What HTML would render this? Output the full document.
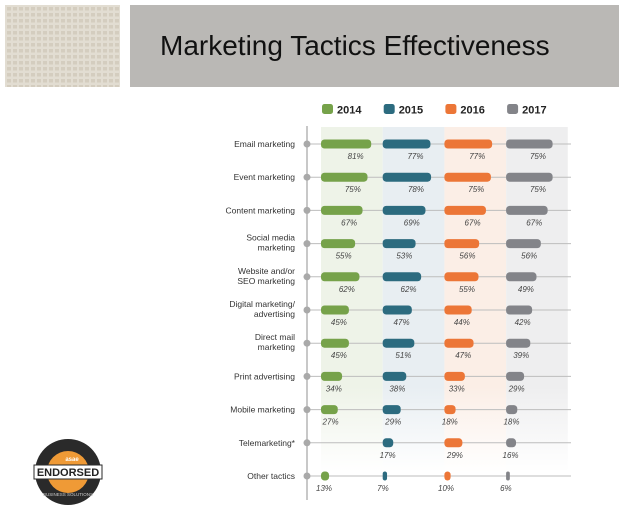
<!DOCTYPE html>
<html><head><meta charset="utf-8"><style>
body{margin:0;width:619px;height:512px;background:#fff;overflow:hidden;font-family:"Liberation Sans",sans-serif}
</style></head><body>
<svg width="619" height="512" xmlns="http://www.w3.org/2000/svg">
<defs>
<pattern id="tile" width="6" height="6" patternUnits="userSpaceOnUse"><rect width="6" height="6" fill="#e2ddd2"/><rect x="1" y="1" width="4" height="3.5" fill="#d4cdbf"/></pattern>
<linearGradient id="fade" x1="0" y1="0" x2="0" y2="1"><stop offset="0" stop-color="#fff" stop-opacity="0"/><stop offset="0.75" stop-color="#fff" stop-opacity="0"/><stop offset="1" stop-color="#fff" stop-opacity="1"/></linearGradient>
</defs>
<rect x="5" y="5" width="115" height="82" fill="url(#tile)"/>
<rect x="130" y="5" width="489" height="82" fill="#bab8b5"/>
<text x="160" y="55" font-size="28" fill="#111">Marketing Tactics Effectiveness</text>
<g id="bands"></g>
<rect x="321" y="127" width="250" height="345" fill="url(#fade)"/>
<line x1="307" y1="126" x2="307" y2="500" stroke="#b5b5b5" stroke-width="1.5"/>
<g id="legend"></g>
<g id="rows"></g>
<g>
<circle cx="68" cy="472" r="33" fill="#2a2a2a"/>
<circle cx="68" cy="472" r="21" fill="#ef9a36"/>
<text x="72" y="461" font-size="6" font-weight="bold" fill="#fff" text-anchor="middle">asae</text>
<rect x="34" y="465" width="68" height="14" fill="#fff" stroke="#2a2a2a"/>
<text x="68" y="476" font-size="11" font-weight="bold" fill="#222" text-anchor="middle">ENDORSED</text>
<text x="68" y="496" font-size="4.5" fill="#ccc" text-anchor="middle">BUSINESS SOLUTIONS</text>
</g>
</svg>
<script>
const categories=[["Email marketing"],["Event marketing"],["Content marketing"],["Social media","marketing"],["Website and/or","SEO marketing"],["Digital marketing/","advertising"],["Direct mail","marketing"],["Print advertising"],["Mobile marketing"],["Telemarketing*"],["Other tactics"]];
const years=["2014","2015","2016","2017"];
const v2014=[81,75,67,55,62,45,45,34,27,null,13];
const v2015=[77,78,69,53,62,47,51,38,29,17,7];
const v2016=[77,75,67,56,55,44,47,33,18,29,10];
const v2017=[75,75,67,56,49,42,39,29,18,16,6];
const series=[v2014,v2015,v2016,v2017];
const colors=["#76a24a","#2c6b7f","#ec7637","#838489"];
const bandColors=["#eef3e8","#e8eef2","#fbeee6","#eeeeef"];
const NS="http://www.w3.org/2000/svg";
const colX=i=>321+i*61.7;
const xLen=v=>v*0.62;
const rowY=i=>144+i*33.2;
function el(t,a,p){const e=document.createElementNS(NS,t);for(const k in a)e.setAttribute(k,a[k]);p.appendChild(e);return e;}
const bands=document.getElementById('bands'),leg=document.getElementById('legend'),rows=document.getElementById('rows');
years.forEach((y,i)=>{
  const b=el('rect',{x:colX(i),y:127,width:61.7,height:345,fill:bandColors[i]},bands);
  
  
  const g=el('g',{},leg);
  
  
  el('rect',{x:colX(i)+1,y:104,width:11,height:10,rx:2.5,fill:colors[i]},g);
  const t=el('text',{x:colX(i)+16,y:113.5,'font-size':11,'font-weight':'bold',fill:'#222'},g);t.textContent=y;
});
categories.forEach((c,r)=>{
  const y=rowY(r);
  const g=el('g',{},rows);
  
  
  el('line',{x1:307,y1:y,x2:571,y2:y,stroke:'#bdbdbd','stroke-width':1},g);
  el('circle',{cx:307,cy:y,r:3.5,fill:'#a9a9a9'},g);
  const t=el('text',{x:295,y:c.length>1?y-3:y+3,'font-size':8.5,fill:'#333','text-anchor':'end'},g);
  
  
  c.forEach((s,k)=>{const ts=el('tspan',{x:295,dy:k?10:0},t);ts.textContent=s;});
  series.forEach((sv,i)=>{
    const v=sv[r];if(v==null)return;
    const x0=colX(i),w=Math.max(xLen(v),3);
    const b=el('rect',{x:x0,y:y-4.5,width:w,height:9,rx:Math.min(3.5,w/2),fill:colors[i]},g);
    
    
    const l=el('text',{x:x0+w*0.75-3,y:y+15,'font-size':8,'font-style':'italic',fill:'#444','text-anchor':'middle'},g);
    
    
    l.textContent=v+'%';
  });
});
</script>
</body></html>
